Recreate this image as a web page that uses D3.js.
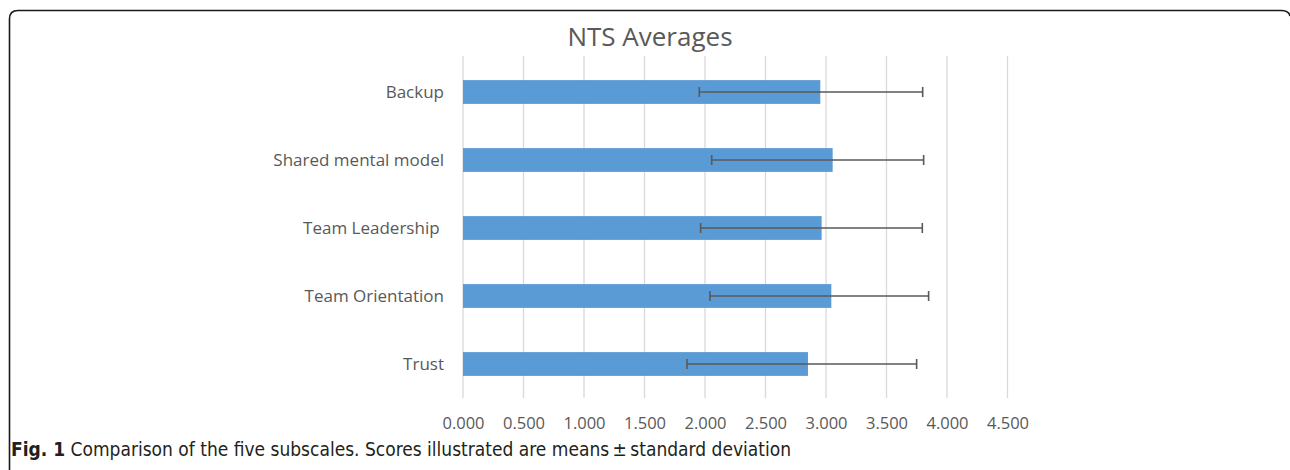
<!DOCTYPE html>
<html>
<head>
<meta charset="utf-8">
<script src="https://cdn.jsdelivr.net/npm/d3@7"></script>
<style>
  body { margin: 0; background: #fff; }
</style>
</head>
<body>
<script>
const categories = ["Backup", "Shared mental model", "Team Leadership ", "Team Orientation", "Trust"];
const means = [2.953, 3.055, 2.964, 3.044, 2.851];
const errMinus = [1.000, 1.000, 1.000, 1.003, 1.000];
const errPlus = [0.846, 0.752, 0.832, 0.804, 0.898];
const tickValues = [0, 0.5, 1, 1.5, 2, 2.5, 3, 3.5, 4, 4.5];

const width = 1290;
const height = 470;
const grey = "#595959";

const data = categories.map((c, i) => ({
    name: c,
    mean: means[i],
    lo: means[i] - errMinus[i],
    hi: means[i] + errPlus[i]
}));

const svg = d3.select("body")
    .append("svg")
    .attr("width", width)
    .attr("height", height);

// outer frame (rounded top-left corner)
svg.append("path")
    .attr("d", "M9.5,470 L9.5,19 Q9.5,10.5 18,10.5 L1281,10.5 Q1289,10.5 1290,16")
    .attr("fill", "none")
    .attr("stroke", "#1a1a1a")
    .attr("stroke-width", 1.6);

const x = d3.scaleLinear()
    .domain([0, 4.5])
    .range([463, 1007.5]);

const y = d3.scaleBand()
    .domain(categories)
    .range([58, 398])
    .paddingInner(0.65)
    .paddingOuter(0.325);

// gridlines
svg.append("g")
    .selectAll("line")
    .data(tickValues)
    .enter().append("line")
    .attr("x1", d => x(d))
    .attr("x2", d => x(d))
    .attr("y1", 56)
    .attr("y2", 398)
    .attr("stroke", "#d9d9d9")
    .attr("stroke-width", 1.3);

// x axis labels
const xAxis = svg.append("g")
    .attr("transform", "translate(0,414)")
    .call(d3.axisBottom(x).tickValues(tickValues).tickFormat(d3.format(".3f")).tickSize(0).tickPadding(0));
xAxis.select(".domain").remove();
xAxis.selectAll("text")
    .attr("fill", grey)
    .attr("dy", "0.9em")
    .style("font-family", "'Open Sans', sans-serif")
    .style("font-size", "16.5px");

// bars
svg.append("g")
    .selectAll("rect")
    .data(data)
    .enter().append("rect")
    .attr("x", x(0))
    .attr("y", d => y(d.name))
    .attr("width", d => x(d.mean) - x(0))
    .attr("height", y.bandwidth())
    .attr("fill", "#5b9bd5");

// error bars
const err = svg.append("g")
    .selectAll("g")
    .data(data)
    .enter().append("g")
    .attr("stroke", grey)
    .attr("stroke-width", 1.6);

err.append("line")
    .attr("x1", d => x(d.lo))
    .attr("x2", d => x(d.hi))
    .attr("y1", d => y(d.name) + y.bandwidth() / 2)
    .attr("y2", d => y(d.name) + y.bandwidth() / 2);

err.append("line")
    .attr("x1", d => x(d.lo))
    .attr("x2", d => x(d.lo))
    .attr("y1", d => y(d.name) + y.bandwidth() / 2 - 5)
    .attr("y2", d => y(d.name) + y.bandwidth() / 2 + 5);

err.append("line")
    .attr("x1", d => x(d.hi))
    .attr("x2", d => x(d.hi))
    .attr("y1", d => y(d.name) + y.bandwidth() / 2 - 5)
    .attr("y2", d => y(d.name) + y.bandwidth() / 2 + 5);

// category labels
svg.append("g")
    .selectAll("text")
    .data(data)
    .enter().append("text")
    .attr("x", 444)
    .attr("y", d => y(d.name) + y.bandwidth() / 2)
    .attr("dy", "0.35em")
    .attr("text-anchor", "end")
    .attr("fill", grey)
    .style("font-family", "'Open Sans', sans-serif")
    .style("font-size", "17px")
    .style("white-space", "pre")
    .text(d => d.name);

// title
svg.append("text")
    .attr("x", 650)
    .attr("y", 46)
    .attr("text-anchor", "middle")
    .attr("fill", grey)
    .style("font-family", "'Open Sans', sans-serif")
    .style("font-size", "26px")
    .text("NTS Averages");

// caption
const cap = svg.append("text")
    .attr("x", 11)
    .attr("y", 456)
    .attr("fill", "#231f20")
    .style("font-family", "'DejaVu Sans Condensed', 'Liberation Sans Narrow', sans-serif")
    .style("font-size", "19px");
cap.append("tspan")
    .style("font-weight", "bold")
    .text("Fig. 1");
cap.append("tspan")
    .text(" Comparison of the five subscales. Scores illustrated are means\u2009\u00b1\u2009standard deviation");
</script>
</body>
</html>
